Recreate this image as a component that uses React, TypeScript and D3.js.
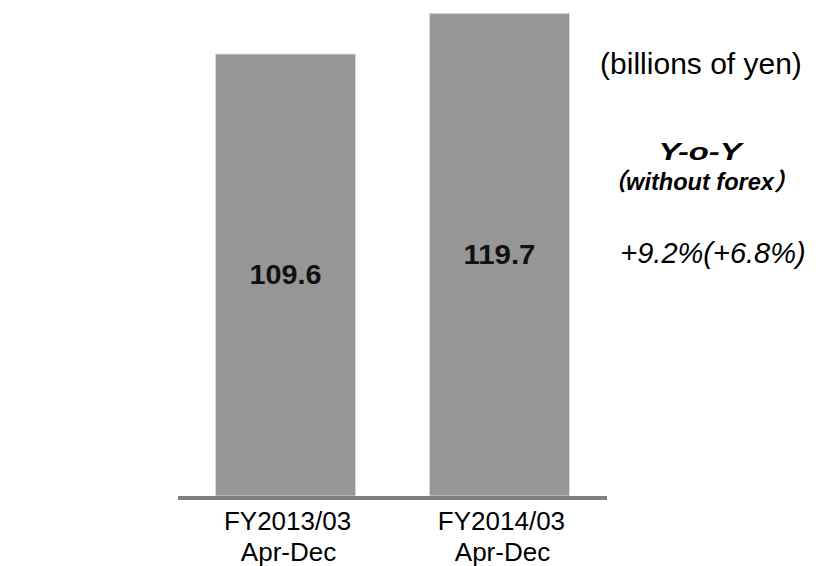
import React from "react";
import { scaleBand, scaleLinear } from "d3";

const categories = ["FY2013/03", "FY2014/03"];
const periods = ["Apr-Dec", "Apr-Dec"];
const sales = [109.6, 119.7];
const yMax = 123;

const W = 820;
const H = 566;
const base = 496;

function App() {
  const x = scaleBand<string>()
    .domain(categories)
    .range([178, 607])
    .paddingInner(0.345)
    .paddingOuter(0.175);
  const y = scaleLinear().domain([0, yMax]).range([base, 0]);

  return (
    <svg width={W} height={H} style={{ position: "absolute", left: 0, top: 0 }}
      fontFamily="'Liberation Sans', Arial, 'Noto Sans CJK JP', sans-serif">
      <rect width={W} height={H} fill="#fff" />
      {categories.map((c, i) => (
        <g key={c}>
          <rect x={x(c)} y={y(sales[i])} width={x.bandwidth()} height={base - y(sales[i])}
            fill="#969696" stroke="#dadada" strokeWidth={1} />
          <text x={x(c)! + x.bandwidth() / 2} y={(y(sales[i]) + base) / 2 + 9}
            textAnchor="middle" fontSize={28} fontWeight="bold" fill="#111"
            textLength={72} lengthAdjust="spacingAndGlyphs">
            {sales[i].toFixed(1)}
          </text>
          <text x={x(c)! + x.bandwidth() / 2 + 2} y={530} textAnchor="middle" fontSize={26}>{c}</text>
          <text x={x(c)! + x.bandwidth() / 2 + 3} y={561} textAnchor="middle" fontSize={26}>{periods[i]}</text>
        </g>
      ))}
      {/* baseline */}
      <line x1={x.range()[0]} x2={x.range()[1]} y1={base + 2} y2={base + 2} stroke="#808080" strokeWidth={4} />

      <text x={701} y={74} textAnchor="middle" fontSize={30}>(billions of yen)</text>
      <text x={700} y={160} textAnchor="middle" fontSize={24} fontWeight="bold" fontStyle="italic"
        textLength={83} lengthAdjust="spacingAndGlyphs">Y-o-Y</text>
      <text x={700} y={190} textAnchor="middle" fontSize={24} fontWeight="bold" fontStyle="italic"
        textLength={195} lengthAdjust="spacingAndGlyphs">（without forex）</text>
      <text x={713} y={263} textAnchor="middle" fontSize={29} fontStyle="italic">+9.2%(+6.8%)</text>
    </svg>
  );
}

export default App;
